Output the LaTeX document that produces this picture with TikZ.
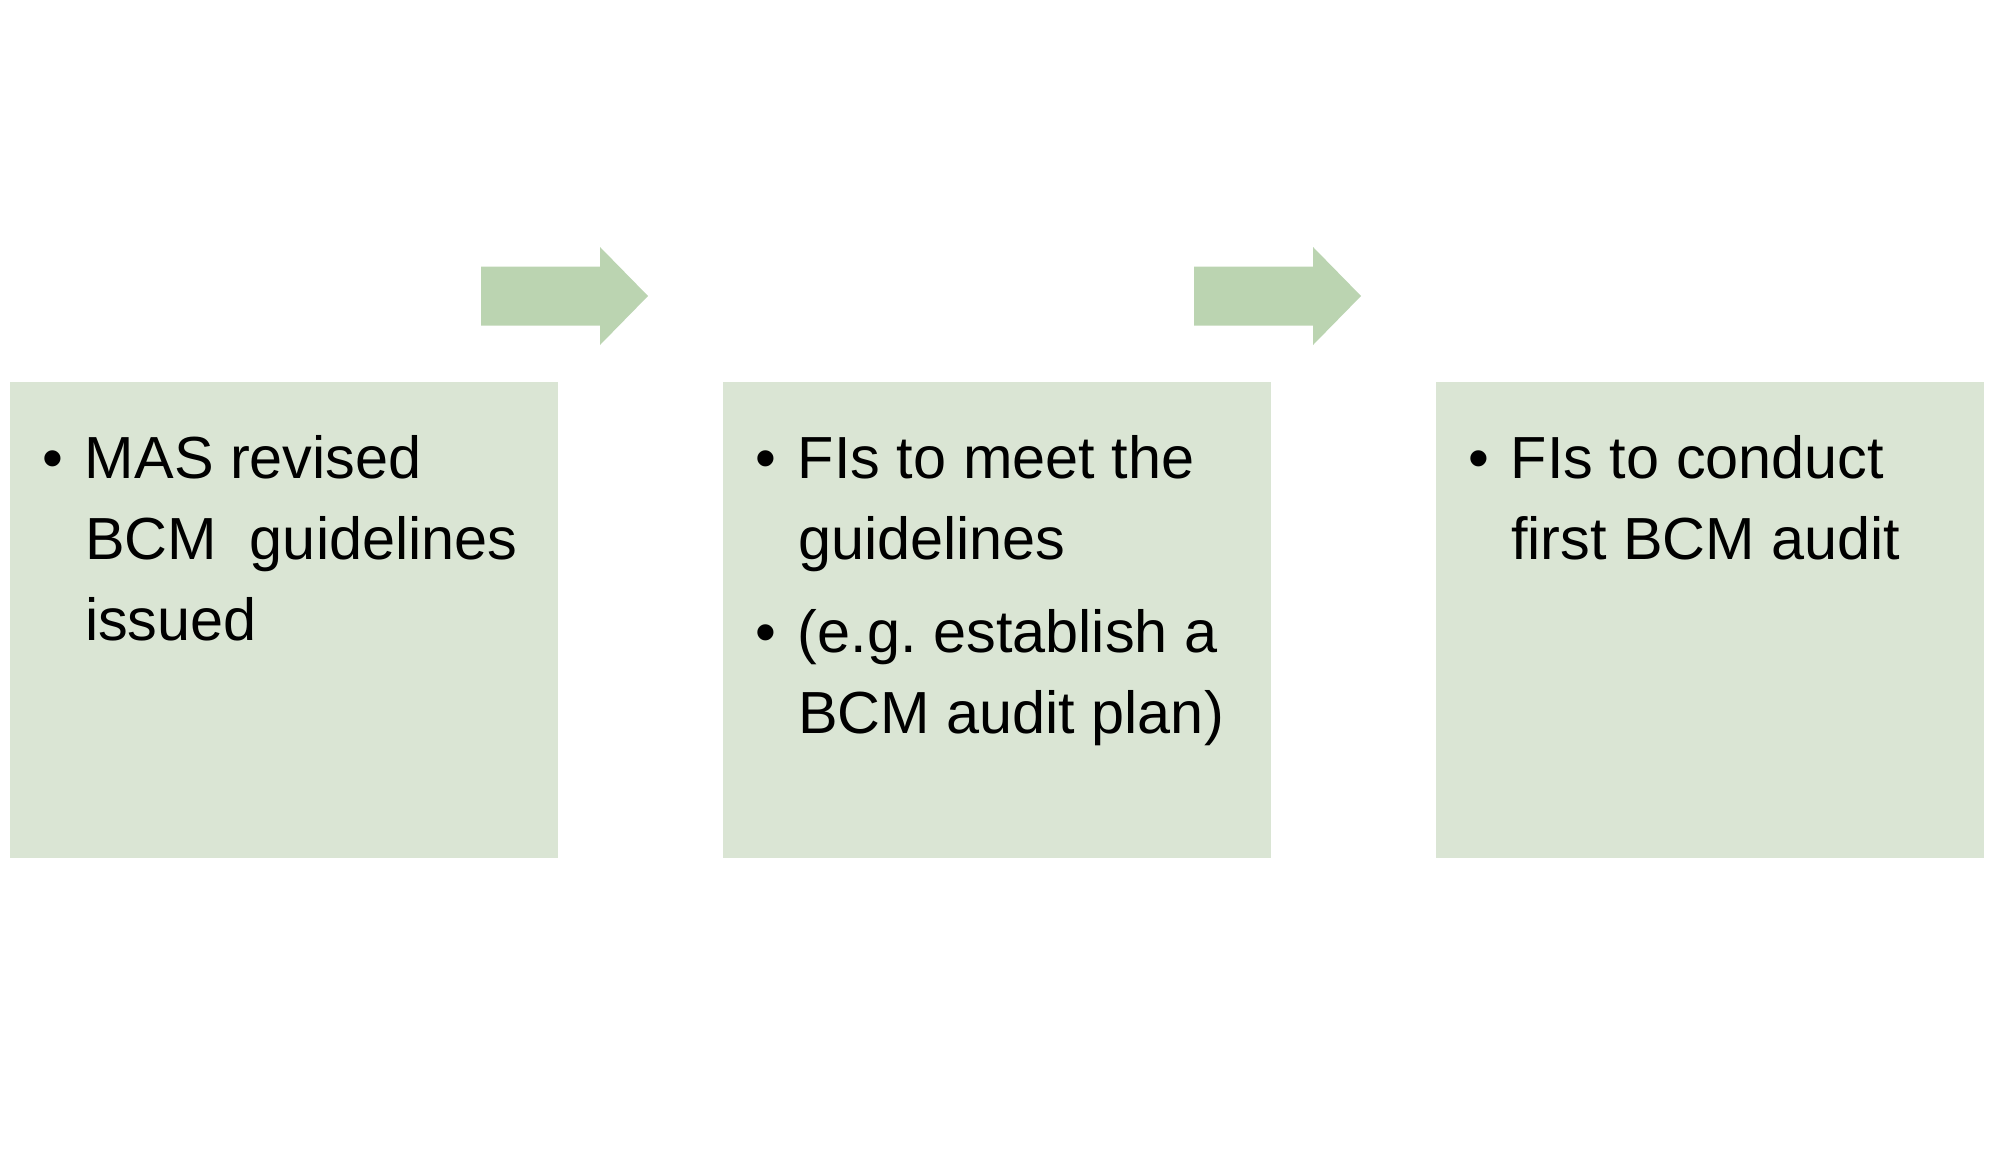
\documentclass[tikz,border=0pt]{standalone}
\usepackage{fontspec}
\setmainfont{Liberation Sans}
\usetikzlibrary{positioning}
\definecolor{boxgreen}{RGB}{218,229,212}
\definecolor{arrowgreen}{RGB}{187,212,177}
\newcommand{\steplist}[1]{\begin{tabular}{@{}p{21.5pt}@{}l@{}}#1\end{tabular}}
\tikzset{
  stepbox/.style={fill=boxgreen,minimum width=274pt,minimum height=238pt,inner sep=0pt},
  steptext/.style={inner sep=0pt,font=\fontsize{29.7pt}{40.5pt}\selectfont},
  pics/flowarrow/.style={code={
    \fill[arrowgreen] (0,-29.5) -- (119,-29.5) -- (119,-49) -- (167,0) -- (119,49) -- (119,29.5) -- (0,29.5) -- cycle;}}
}
\begin{document}
\begin{tikzpicture}[x=0.5pt,y=-0.5pt]
  \useasboundingbox (0,0) rectangle (1989,1155);
  \node[stepbox] (b1) at (284,620) {};
  \node[stepbox] (b2) at (997,620) {};
  \node[stepbox] (b3) at (1710,620) {};
  \pic at (481,296) {flowarrow};
  \pic at (1194,296) {flowarrow};
  \node[steptext,below right=20pt and 16pt of b1.north west] (t1)
    {\steplist{\textbullet & MAS revised\\ & BCM~ guidelines\\ & issued}};
  \node[steptext,below right=20pt and 16pt of b2.north west] (t2)
    {\steplist{\textbullet & FIs to meet the\\ & guidelines\\[6pt] \textbullet & (e.g.\ establish a\\ & BCM audit plan)}};
  \node[steptext,below right=20pt and 16pt of b3.north west] (t3)
    {\steplist{\textbullet & FIs to conduct\\ & first BCM audit}};
\end{tikzpicture}
\end{document}
